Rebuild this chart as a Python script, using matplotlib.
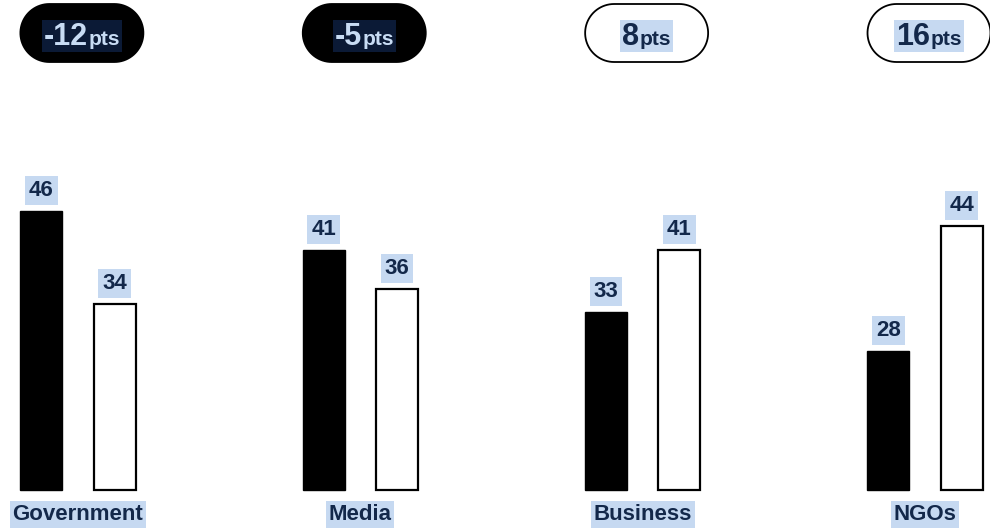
import matplotlib.pyplot as plt
from matplotlib.patches import Polygon, Rectangle
import numpy as np

plt.rcParams['font.family'] = ['Liberation Sans', 'DejaVu Sans']

categories = ['Government', 'Media', 'Business', 'NGOs']
trust_before = [46, 41, 33, 28]
trust_after = [34, 36, 41, 44]
change = [-12, -5, 8, 16]

NAVY = '#13284a'
HILITE = '#c6d9f1'
DARK_HI = '#0b1a36'
LIGHT_TXT = '#c8dcf4'

fig = plt.figure(figsize=(9.9, 5.32), dpi=100)
ax = fig.add_axes([0, 0, 1, 1])
ax.set_xlim(-0.276, 3.23)
ax.set_ylim(4.73, 73.1)
ax.axis('off')

base = 10.13
x = np.arange(len(categories))
w = 0.149
off = 0.130

ax.bar(x - off, np.array(trust_before) - base, w, bottom=base,
       color='black', edgecolor='black', linewidth=1)
ax.bar(x + off, np.array(trust_after) - base, w, bottom=base,
       color='white', edgecolor='black', linewidth=1.6)

lab_box = dict(boxstyle='square,pad=0.18', fc=HILITE, ec='none')
for xs, vals in [(x - off, trust_before), (x + off, trust_after)]:
    for xi, v in zip(xs, vals):
        ax.annotate(str(v), (xi, v), xytext=(0, 15), textcoords='offset pixels',
                    ha='center', va='baseline', fontsize=16, fontweight='bold',
                    color=NAVY, bbox=lab_box)

for xi, cat in zip(x, categories):
    ax.annotate(cat, (xi, base), xytext=(0, -30), textcoords='offset pixels',
                ha='center', va='baseline', fontsize=16, fontweight='bold',
                color=NAVY, bbox=dict(boxstyle='square,pad=0.12', fc=HILITE, ec='none'))

# pills with the change in points
fig.canvas.draw()
renderer = fig.canvas.get_renderer()
H = fig.get_figheight() * fig.dpi
pill_w, pill_h = 123, 58
pill_cy = H - 33
text_base = H - 45
r = pill_h / 2
th = np.linspace(-np.pi / 2, np.pi / 2, 40)
for xi, d in zip(x, change):
    cx = ax.transData.transform((xi + 0.014, 0))[0]
    neg = d < 0
    right = np.column_stack([cx + pill_w / 2 - r + r * np.cos(th), pill_cy + r * np.sin(th)])
    left = np.column_stack([cx - pill_w / 2 + r - r * np.cos(th), pill_cy - r * np.sin(th)])
    pill = Polygon(np.vstack([right, left]), closed=True, transform=None,
                   fc='black' if neg else 'white', ec='black', lw=1.3)
    fig.patches.append(pill)
    pill.set_figure(fig)
    tc = LIGHT_TXT if neg else NAVY
    hc = DARK_HI if neg else HILITE
    t1 = fig.text(0, text_base, str(d), transform=None, ha='left', va='baseline',
                  fontsize=22, fontweight='bold', color=tc, zorder=3)
    t2 = fig.text(0, text_base, 'pts', transform=None, ha='left', va='baseline',
                  fontsize=15, fontweight='bold', color=tc, zorder=3)
    w1 = t1.get_window_extent(renderer).width
    w2 = t2.get_window_extent(renderer).width
    x0 = cx - (w1 + w2) / 2
    t1.set_x(x0)
    t2.set_x(x0 + w1)
    hl = Rectangle((x0 - 2, text_base - 7), w1 + w2 + 4, 32, transform=None,
                   fc=hc, ec='none', zorder=2)
    fig.patches.append(hl)
    hl.set_figure(fig)

fig.savefig('out.png', dpi=100)
